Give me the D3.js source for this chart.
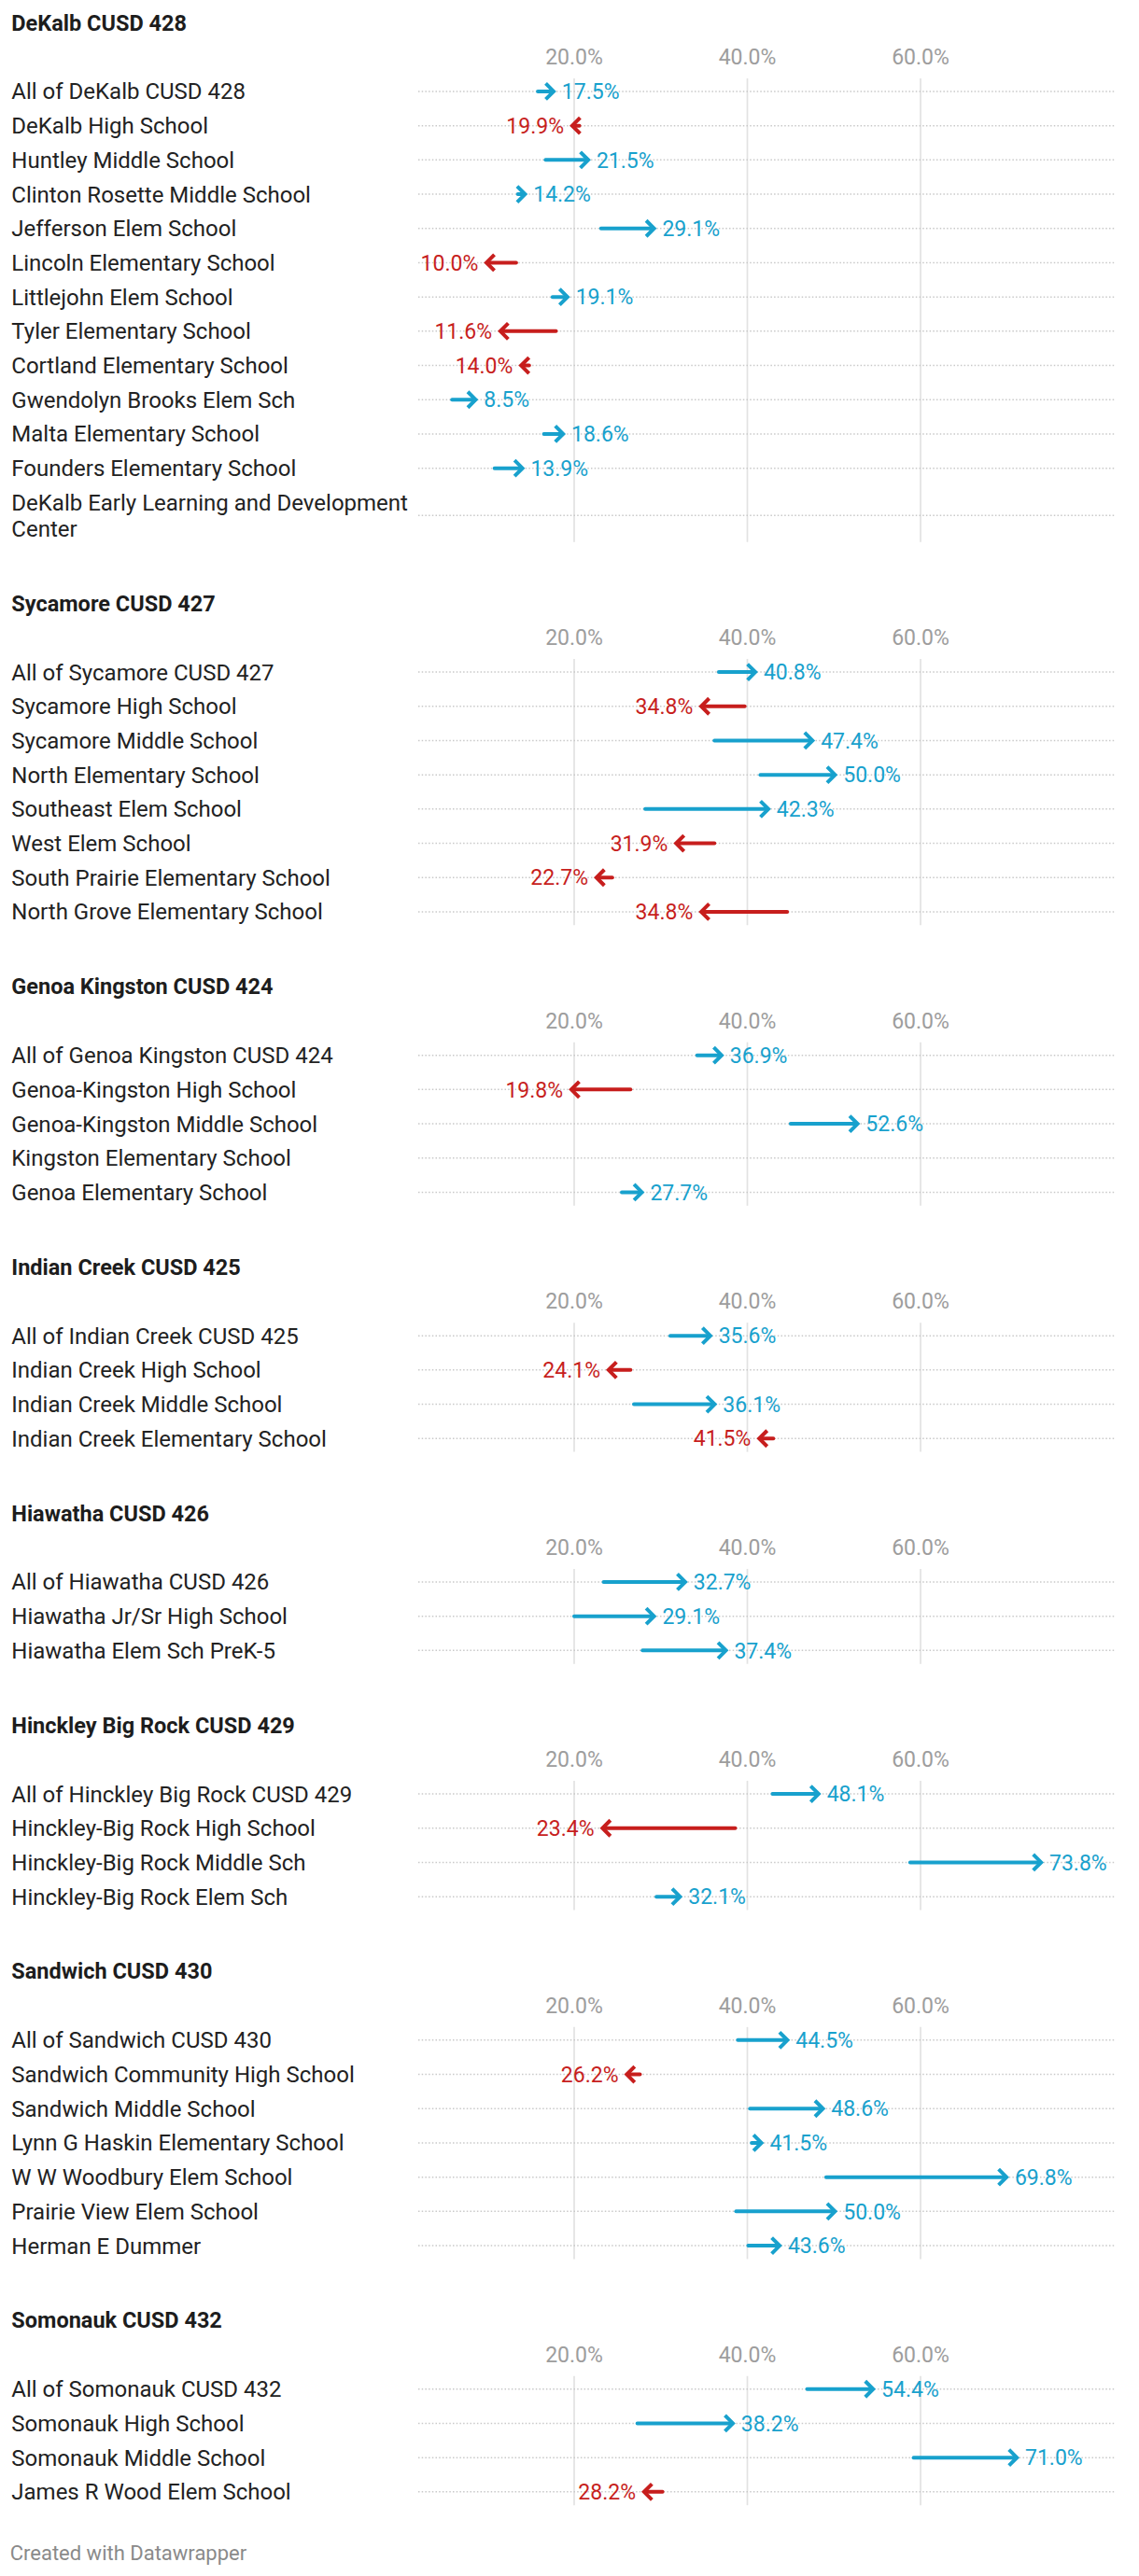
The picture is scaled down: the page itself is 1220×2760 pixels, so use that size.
<!DOCTYPE html>
<html>
<head>
<meta charset="utf-8">
<script src="https://cdn.jsdelivr.net/npm/d3@7"></script>
<style>
  html, body { margin: 0; padding: 0; background: #fff; }
  svg { display: block; font-family: Roboto, "Noto Sans", sans-serif; }
</style>
</head>
<body>
<script>
// ---------------- DATA ----------------
const districts = [
  "DeKalb CUSD 428", "Sycamore CUSD 427", "Genoa Kingston CUSD 424", "Indian Creek CUSD 425",
  "Hiawatha CUSD 426", "Hinckley Big Rock CUSD 429", "Sandwich CUSD 430", "Somonauk CUSD 432"
];

const schoolNames = [
  "All of DeKalb CUSD 428", "DeKalb High School", "Huntley Middle School", "Clinton Rosette Middle School",
  "Jefferson Elem School", "Lincoln Elementary School", "Littlejohn Elem School", "Tyler Elementary School",
  "Cortland Elementary School", "Gwendolyn Brooks Elem Sch", "Malta Elementary School", "Founders Elementary School",
  "DeKalb Early Learning and Development Center",
  "All of Sycamore CUSD 427", "Sycamore High School", "Sycamore Middle School", "North Elementary School",
  "Southeast Elem School", "West Elem School", "South Prairie Elementary School", "North Grove Elementary School",
  "All of Genoa Kingston CUSD 424", "Genoa-Kingston High School", "Genoa-Kingston Middle School",
  "Kingston Elementary School", "Genoa Elementary School",
  "All of Indian Creek CUSD 425", "Indian Creek High School", "Indian Creek Middle School", "Indian Creek Elementary School",
  "All of Hiawatha CUSD 426", "Hiawatha Jr/Sr High School", "Hiawatha Elem Sch PreK-5",
  "All of Hinckley Big Rock CUSD 429", "Hinckley-Big Rock High School", "Hinckley-Big Rock Middle Sch", "Hinckley-Big Rock Elem Sch",
  "All of Sandwich CUSD 430", "Sandwich Community High School", "Sandwich Middle School", "Lynn G Haskin Elementary School",
  "W W Woodbury Elem School", "Prairie View Elem School", "Herman E Dummer",
  "All of Somonauk CUSD 432", "Somonauk High School", "Somonauk Middle School", "James R Wood Elem School"
];

const schoolDistrict = [
  0,0,0,0,0,0,0,0,0,0,0,0,0,
  1,1,1,1,1,1,1,1,
  2,2,2,2,2,
  3,3,3,3,
  4,4,4,
  5,5,5,5,
  6,6,6,6,6,6,6,
  7,7,7,7
];

// previous value (arrow tail)
const previousRate = [
  15.8, 20.6, 16.7, 13.5, 23.1, 13.3, 17.5, 17.9, 14.8, 5.9, 16.5, 10.8, null,
  36.7, 39.7, 36.2, 41.5, 28.2, 36.2, 24.4, 44.6,
  34.2, 26.5, 45.0, null, 25.5,
  31.1, 26.5, 26.9, 43.0,
  23.4, 20.0, 27.9,
  42.9, 38.6, 58.8, 29.5,
  38.9, 27.6, 40.3, 40.5, 49.1, 38.7, 40.1,
  46.9, 27.3, 59.2, 30.2
];

// current value (arrow head, labelled)
const currentRate = [
  17.5, 19.9, 21.5, 14.2, 29.1, 10.0, 19.1, 11.6, 14.0, 8.5, 18.6, 13.9, null,
  40.8, 34.8, 47.4, 50.0, 42.3, 31.9, 22.7, 34.8,
  36.9, 19.8, 52.6, null, 27.7,
  35.6, 24.1, 36.1, 41.5,
  32.7, 29.1, 37.4,
  48.1, 23.4, 73.8, 32.1,
  44.5, 26.2, 48.6, 41.5, 69.8, 50.0, 43.6,
  54.4, 38.2, 71.0, 28.2
];

const tickValues = [20, 40, 60];
const tickLabels = ["20.0%", "40.0%", "60.0%"];
const footerText = "Created with Datawrapper";

// ---------------- STYLE / LAYOUT ----------------
const W = 1220, H = 2760;
const BLUE = "#18a1cd", RED = "#c71e1d";
const labelX = 12.3;
const plotLeft = 448, plotRight = 1194;
const rowH = 36.7, lineH = 28;
const labelWrap = 440;

const x = d3.scaleLinear().domain([0, 80]).range([429.5, 1171.5]);
const fmt = d => d.toFixed(1) + "%";

const svg = d3.select("body").append("svg")
  .attr("width", W).attr("height", H)
  .attr("viewBox", `0 0 ${W} ${H}`);

svg.append("rect").attr("width", W).attr("height", H).attr("fill", "#fff");

// measuring helper for wrapping labels
const meas = svg.append("text").attr("font-size", 24).attr("visibility", "hidden");
function wrap(str) {
  const words = str.split(" ");
  const lines = [];
  let cur = "";
  words.forEach(w => {
    const test = cur ? cur + " " + w : w;
    meas.text(test);
    if (meas.node().getComputedTextLength() > labelWrap && cur) {
      lines.push(cur);
      cur = w;
    } else cur = test;
  });
  if (cur) lines.push(cur);
  return lines;
}

let T = 24.2;
districts.forEach((dName, di) => {
  const g = svg.append("g");
  const idx = schoolNames.map((_, i) => i).filter(i => schoolDistrict[i] === di);

  // title
  g.append("text")
    .attr("x", labelX).attr("y", T + 8.3)
    .attr("font-size", 23.5).attr("font-weight", 700).attr("fill", "#1d1d1d")
    .text(dName);

  // tick labels
  g.selectAll(".tick").data(tickValues).enter().append("text")
    .attr("x", d => x(d)).attr("y", T + 36.5 + 8.2)
    .attr("text-anchor", "middle").attr("font-size", 23).attr("fill", "#9d9d9d")
    .text((d, i) => tickLabels[i]);

  // row layout
  let y = T + 55.4;
  const rows = idx.map(i => {
    const lines = wrap(schoolNames[i]);
    const h = rowH + (lines.length - 1) * lineH;
    const c = y + h / 2;
    y += h;
    return { i, lines, c };
  });
  const gridTop = rows[0].c - 14;
  const gridBottom = y - 4;

  // grid lines
  g.selectAll(".grid").data(tickValues).enter().append("line")
    .attr("x1", d => x(d)).attr("x2", d => x(d))
    .attr("y1", gridTop).attr("y2", gridBottom)
    .attr("stroke", "#e2e2e2").attr("stroke-width", 1.7);

  rows.forEach(r => {
    // dotted row line
    g.append("line")
      .attr("x1", plotLeft).attr("x2", plotRight)
      .attr("y1", r.c).attr("y2", r.c)
      .attr("stroke", "#c9c9c9").attr("stroke-width", 1.5)
      .attr("stroke-dasharray", "1.5,2.2");

    // label
    const n = r.lines.length;
    r.lines.forEach((ln, k) => {
      g.append("text")
        .attr("x", labelX).attr("y", r.c + 8.5 + (k - (n - 1) / 2) * lineH)
        .attr("font-size", 24).attr("fill", "#222")
        .text(ln);
    });

    const p = previousRate[r.i], c = currentRate[r.i];
    if (p == null || c == null) return;
    const dir = c >= p ? 1 : -1;
    const col = dir > 0 ? BLUE : RED;
    const xe = x(c), xs = x(p);
    const tip = xe + dir * 1.2;

    g.append("line")
      .attr("x1", xs).attr("x2", tip - dir * 2)
      .attr("y1", r.c).attr("y2", r.c)
      .attr("stroke", col).attr("stroke-width", 4).attr("stroke-linecap", "round");

    g.append("path")
      .attr("d", `M${tip - dir * 8.5},${r.c - 8.5}L${tip},${r.c}L${tip - dir * 8.5},${r.c + 8.5}`)
      .attr("fill", "none").attr("stroke", col).attr("stroke-width", 4)
      .attr("stroke-linejoin", "miter").attr("stroke-linecap", "butt");

    g.append("text")
      .attr("x", xe + dir * 10).attr("y", r.c + 8.2)
      .attr("text-anchor", dir > 0 ? "start" : "end")
      .attr("font-size", 23).attr("fill", col)
      .text(fmt(c));
  });

  T = y + 61.6;
});

meas.remove();

svg.append("text")
  .attr("x", 10.7).attr("y", 2743)
  .attr("font-size", 22).attr("fill", "#8a8a8a")
  .text(footerText);
</script>
</body>
</html>
